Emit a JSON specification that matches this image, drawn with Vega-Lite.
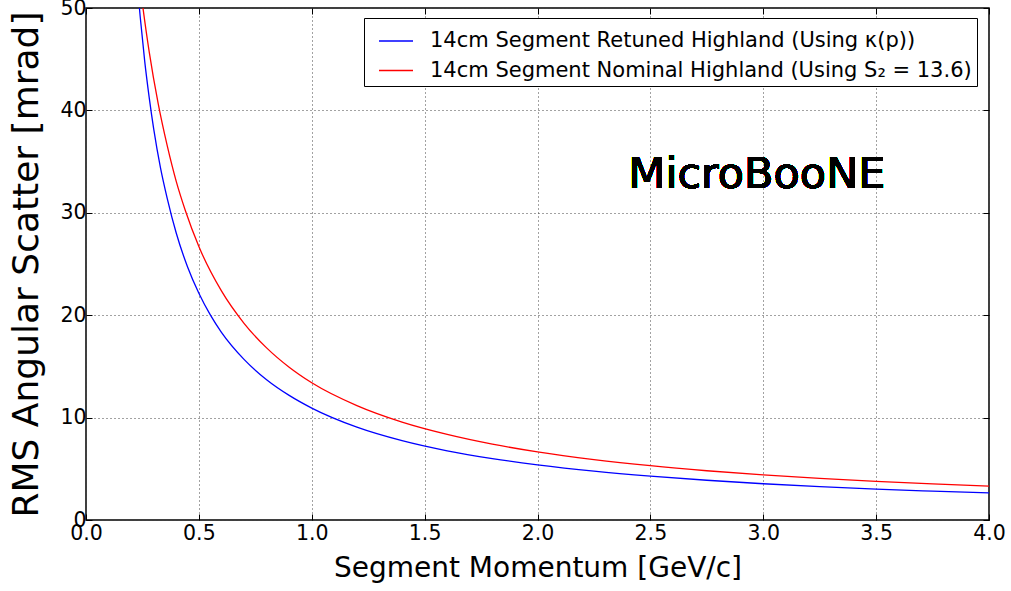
{
  "$schema": "https://vega.github.io/schema/vega-lite/v6.json",
  "width": 903,
  "height": 512,
  "autosize": {"type": "none"},
  "padding": {"left": 86, "top": 8, "right": 22, "bottom": 71},
  "background": "white",
  "config": {
    "font": "DejaVu Sans",
    "view": {"stroke": "black", "strokeWidth": 1.5},
    "axis": {
      "labelFont": "DejaVu Sans",
      "titleFont": "DejaVu Sans",
      "labelColor": "black",
      "titleColor": "black",
      "titleFontWeight": "normal",
      "domain": false,
      "tickColor": "black",
      "tickWidth": 1,
      "tickSize": -6,
      "gridColor": "#444444",
      "gridDash": [1, 3],
      "gridWidth": 1,
      "labelOverlap": false,
      "labelFlush": false
    },
    "legend": {
      "labelFont": "DejaVu Sans",
      "labelFontSize": 21,
      "labelColor": "black"
    }
  },
  "datasets": {
    "curves": [
      {"p": 0.22, "theta": 54.09, "series": "14cm Segment Retuned Highland (Using κ(p))"},
      {"p": 0.24, "theta": 49.17, "series": "14cm Segment Retuned Highland (Using κ(p))"},
      {"p": 0.26, "theta": 44.81, "series": "14cm Segment Retuned Highland (Using κ(p))"},
      {"p": 0.28, "theta": 41.25, "series": "14cm Segment Retuned Highland (Using κ(p))"},
      {"p": 0.30, "theta": 38.17, "series": "14cm Segment Retuned Highland (Using κ(p))"},
      {"p": 0.33, "theta": 34.39, "series": "14cm Segment Retuned Highland (Using κ(p))"},
      {"p": 0.36, "theta": 31.39, "series": "14cm Segment Retuned Highland (Using κ(p))"},
      {"p": 0.40, "theta": 28.0, "series": "14cm Segment Retuned Highland (Using κ(p))"},
      {"p": 0.45, "theta": 24.71, "series": "14cm Segment Retuned Highland (Using κ(p))"},
      {"p": 0.50, "theta": 22.14, "series": "14cm Segment Retuned Highland (Using κ(p))"},
      {"p": 0.55, "theta": 20.05, "series": "14cm Segment Retuned Highland (Using κ(p))"},
      {"p": 0.60, "theta": 18.33, "series": "14cm Segment Retuned Highland (Using κ(p))"},
      {"p": 0.70, "theta": 15.69, "series": "14cm Segment Retuned Highland (Using κ(p))"},
      {"p": 0.80, "theta": 13.70, "series": "14cm Segment Retuned Highland (Using κ(p))"},
      {"p": 0.90, "theta": 12.17, "series": "14cm Segment Retuned Highland (Using κ(p))"},
      {"p": 1.0, "theta": 10.93, "series": "14cm Segment Retuned Highland (Using κ(p))"},
      {"p": 1.2, "theta": 9.07, "series": "14cm Segment Retuned Highland (Using κ(p))"},
      {"p": 1.4, "theta": 7.75, "series": "14cm Segment Retuned Highland (Using κ(p))"},
      {"p": 1.6, "theta": 6.76, "series": "14cm Segment Retuned Highland (Using κ(p))"},
      {"p": 1.8, "theta": 6.0, "series": "14cm Segment Retuned Highland (Using κ(p))"},
      {"p": 2.0, "theta": 5.39, "series": "14cm Segment Retuned Highland (Using κ(p))"},
      {"p": 2.25, "theta": 4.77, "series": "14cm Segment Retuned Highland (Using κ(p))"},
      {"p": 2.5, "theta": 4.28, "series": "14cm Segment Retuned Highland (Using κ(p))"},
      {"p": 2.75, "theta": 3.88, "series": "14cm Segment Retuned Highland (Using κ(p))"},
      {"p": 3.0, "theta": 3.54, "series": "14cm Segment Retuned Highland (Using κ(p))"},
      {"p": 3.25, "theta": 3.26, "series": "14cm Segment Retuned Highland (Using κ(p))"},
      {"p": 3.5, "theta": 3.02, "series": "14cm Segment Retuned Highland (Using κ(p))"},
      {"p": 3.75, "theta": 2.82, "series": "14cm Segment Retuned Highland (Using κ(p))"},
      {"p": 4.0, "theta": 2.64, "series": "14cm Segment Retuned Highland (Using κ(p))"},
      {"p": 0.23, "theta": 53.91, "series": "14cm Segment Nominal Highland (Using S₂ = 13.6)"},
      {"p": 0.25, "theta": 50.4, "series": "14cm Segment Nominal Highland (Using S₂ = 13.6)"},
      {"p": 0.28, "theta": 45.71, "series": "14cm Segment Nominal Highland (Using S₂ = 13.6)"},
      {"p": 0.32, "theta": 40.63, "series": "14cm Segment Nominal Highland (Using S₂ = 13.6)"},
      {"p": 0.36, "theta": 36.53, "series": "14cm Segment Nominal Highland (Using S₂ = 13.6)"},
      {"p": 0.40, "theta": 33.05, "series": "14cm Segment Nominal Highland (Using S₂ = 13.6)"},
      {"p": 0.44, "theta": 30.23, "series": "14cm Segment Nominal Highland (Using S₂ = 13.6)"},
      {"p": 0.50, "theta": 26.7, "series": "14cm Segment Nominal Highland (Using S₂ = 13.6)"},
      {"p": 0.60, "theta": 22.37, "series": "14cm Segment Nominal Highland (Using S₂ = 13.6)"},
      {"p": 0.70, "theta": 19.21, "series": "14cm Segment Nominal Highland (Using S₂ = 13.6)"},
      {"p": 0.80, "theta": 16.81, "series": "14cm Segment Nominal Highland (Using S₂ = 13.6)"},
      {"p": 0.90, "theta": 14.92, "series": "14cm Segment Nominal Highland (Using S₂ = 13.6)"},
      {"p": 1.0, "theta": 13.4, "series": "14cm Segment Nominal Highland (Using S₂ = 13.6)"},
      {"p": 1.2, "theta": 11.17, "series": "14cm Segment Nominal Highland (Using S₂ = 13.6)"},
      {"p": 1.4, "theta": 9.56, "series": "14cm Segment Nominal Highland (Using S₂ = 13.6)"},
      {"p": 1.6, "theta": 8.36, "series": "14cm Segment Nominal Highland (Using S₂ = 13.6)"},
      {"p": 1.8, "theta": 7.41, "series": "14cm Segment Nominal Highland (Using S₂ = 13.6)"},
      {"p": 2.0, "theta": 6.65, "series": "14cm Segment Nominal Highland (Using S₂ = 13.6)"},
      {"p": 2.25, "theta": 5.90, "series": "14cm Segment Nominal Highland (Using S₂ = 13.6)"},
      {"p": 2.5, "theta": 5.30, "series": "14cm Segment Nominal Highland (Using S₂ = 13.6)"},
      {"p": 2.75, "theta": 4.81, "series": "14cm Segment Nominal Highland (Using S₂ = 13.6)"},
      {"p": 3.0, "theta": 4.40, "series": "14cm Segment Nominal Highland (Using S₂ = 13.6)"},
      {"p": 3.25, "theta": 4.06, "series": "14cm Segment Nominal Highland (Using S₂ = 13.6)"},
      {"p": 3.5, "theta": 3.77, "series": "14cm Segment Nominal Highland (Using S₂ = 13.6)"},
      {"p": 3.75, "theta": 3.52, "series": "14cm Segment Nominal Highland (Using S₂ = 13.6)"},
      {"p": 4.0, "theta": 3.30, "series": "14cm Segment Nominal Highland (Using S₂ = 13.6)"}
    ]
  },
  "data": {"name": "curves"},
  "layer": [
    {
      "mark": {"type": "line", "clip": true, "strokeWidth": 1.3, "interpolate": "monotone"},
      "encoding": {
        "x": {
          "field": "p", "type": "quantitative",
          "scale": {"domain": [0, 4], "nice": false, "zero": false},
          "axis": {
            "orient": "bottom",
            "title": "Segment Momentum [GeV/c]",
            "titleFontSize": 28,
            "titleBaseline": "alphabetic",
            "titleY": 56,
            "values": [0, 0.5, 1, 1.5, 2, 2.5, 3, 3.5, 4],
            "format": ".1f",
            "labelFontSize": 20.5,
            "labelPadding": 9,
            "grid": true
          }
        },
        "y": {
          "field": "theta", "type": "quantitative",
          "scale": {"domain": [0, 50], "nice": false, "zero": false},
          "axis": {
            "orient": "left",
            "title": "RMS Angular Scatter [mrad]",
            "titleFontSize": 36,
            "titleBaseline": "alphabetic",
            "titleX": -49,
            "values": [0, 10, 20, 30, 40, 50],
            "format": "d",
            "labelFontSize": 20.5,
            "labelPadding": 6,
            "grid": true
          }
        },
        "color": {
          "field": "series", "type": "nominal",
          "scale": {
            "domain": ["14cm Segment Retuned Highland (Using κ(p))", "14cm Segment Nominal Highland (Using S₂ = 13.6)"],
            "range": ["#0000ff", "#ff0000"]
          },
          "legend": {
            "title": null,
            "orient": "none",
            "legendX": 278,
            "legendY": 10,
            "direction": "vertical",
            "symbolType": "stroke",
            "symbolSize": 1156,
            "symbolStrokeWidth": 1.3,
            "symbolOffset": 9,
            "labelOffset": 16,
            "rowPadding": 1.5,
            "padding": 5,
            "strokeColor": "black",
            "fillColor": "white",
            "cornerRadius": 0,
            "labelLimit": 700
          }
        }
      }
    },
    {
      "mark": {"type": "line", "opacity": 0},
      "encoding": {
        "x": {
          "field": "p", "type": "quantitative",
          "scale": {"domain": [0, 4], "nice": false, "zero": false},
          "axis": {"orient": "top", "title": null, "labels": false, "grid": false, "values": [0, 0.5, 1, 1.5, 2, 2.5, 3, 3.5, 4]}
        },
        "y": {
          "field": "theta", "type": "quantitative",
          "scale": {"domain": [0, 50], "nice": false, "zero": false},
          "axis": {"orient": "right", "title": null, "labels": false, "grid": false, "values": [0, 10, 20, 30, 40, 50]}
        }
      }
    },
    {
      "mark": {"type": "text", "font": "DejaVu Sans", "fontSize": 43, "align": "center", "baseline": "alphabetic", "color": "black"},
      "encoding": {
        "x": {"datum": 2.972, "type": "quantitative", "axis": null},
        "y": {"datum": 32.4, "type": "quantitative", "axis": null},
        "text": {"value": "MicroBooNE"}
      }
    }
  ],
  "resolve": {"axis": {"x": "independent", "y": "independent"}}
}
